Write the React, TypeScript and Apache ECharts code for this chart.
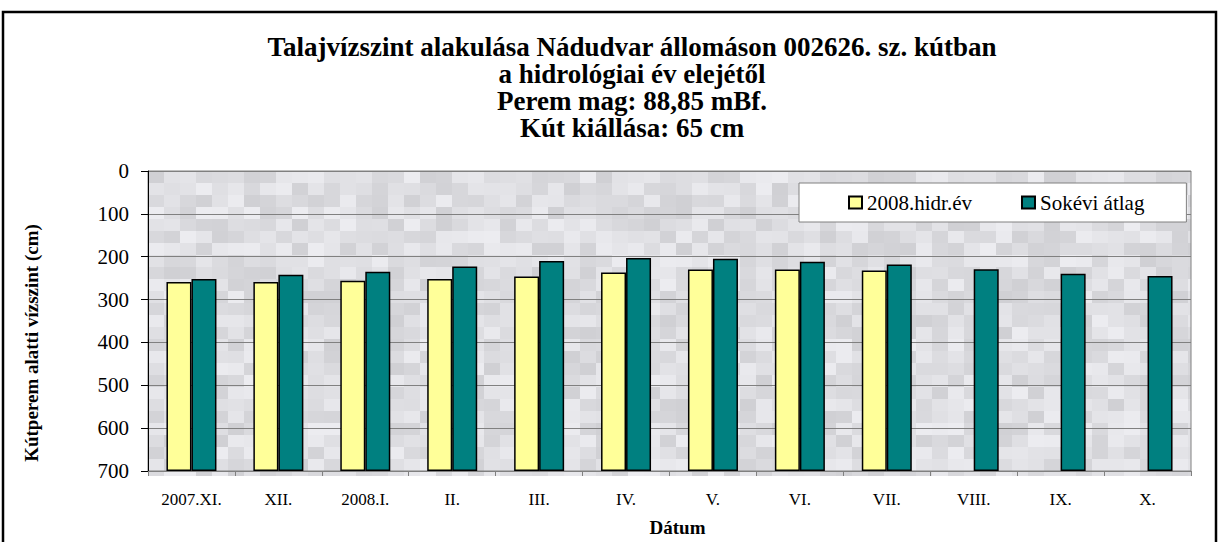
import { useEffect, useRef } from "react";
import * as echarts from "echarts";

const categories = ["2007.XI.", "XII.", "2008.I.", "II.", "III.", "IV.", "V.", "VI.", "VII.", "VIII.", "IX.", "X."];
const hydroYear2008: (number | null)[] = [259, 259, 256, 252, 246, 237, 230, 230, 232, null, null, null];
const longTermAvg: (number | null)[] = [252, 242, 235, 223, 210, 203, 205, 212, 218, 229, 240, 245];
const AXIS_MIN = 0;
const AXIS_MAX = 700;
const AXIS_STEP = 100;
const seriesNames = ["2008.hidr.év", "Sokévi átlag"];
const yAxisTitle = "Kútperem alatti vízszint (cm)";
const xAxisTitle = "Dátum";
const titleLines = [
  "Talajvízszint alakulása Nádudvar állomáson 002626. sz. kútban",
  "a hidrológiai év elejétől",
  "Perem mag: 88,85 mBf.",
  "Kút kiállása: 65 cm",
];

// decorative mottled grey background of the plot area (not data)
function makeTexture(w: number, h: number): string {
  const c = document.createElement("canvas");
  c.width = w;
  c.height = h;
  const ctx = c.getContext("2d")!;
  const cw = 16;
  const ch = 12;
  for (let j = 0; j * ch < h; j++) {
    for (let i = 0; i * cw < w; i++) {
      const hsh = ((i * 2654435761) ^ (j * 40503) ^ (i * j * 97)) >>> 0;
      const g = 208 + (hsh % 29);
      ctx.fillStyle = `rgb(${g},${g},${g + 4})`;
      ctx.fillRect(i * cw, j * ch, cw, ch);
    }
  }
  return c.toDataURL("image/png");
}

export default function App() {
  const ref = useRef<HTMLDivElement>(null);
  useEffect(() => {
    const chart = echarts.init(ref.current!, null, { renderer: "svg" });
    const serif = "Liberation Serif";
    const baseOf = (arr: (number | null)[]) => arr.map((v) => (v == null ? null : v));
    const fillOf = (arr: (number | null)[]) => arr.map((v) => (v == null ? null : AXIS_MAX - v));
    const barBorder = { borderColor: "#000", borderWidth: 1.5 };
    const gl = 148, gt = 171, gw = 1219 - 148 - 28, gh = 542 - 171 - 66;
    const tex = makeTexture(gw, gh);
    chart.setOption({
      animation: false,
      textStyle: { fontFamily: serif, color: "#000" },
      title: {
        text: titleLines.join("\n"),
        left: 627,
        textAlign: "center",
        top: 28,
        textStyle: { fontFamily: serif, fontSize: 27, fontWeight: "bold", lineHeight: 27, color: "#000" },
      },
      legend: {
        data: seriesNames,
        left: 799,
        top: 183,
        orient: "horizontal",
        backgroundColor: "#fff",
        borderColor: "#808080",
        borderWidth: 1,
        borderRadius: 0,
        padding: [9, 42, 9, 49],
        itemGap: 49,
        itemWidth: 13,
        itemHeight: 12,
        icon: "rect",
        textStyle: { fontFamily: serif, fontSize: 21, color: "#000" },
      },
      grid: {
        left: gl,
        right: 28,
        top: gt,
        bottom: 66,
        show: true,
        backgroundColor: "transparent",
        borderColor: "#808080",
        borderWidth: 1,
      },
      xAxis: {
        type: "category",
        data: categories,
        name: xAxisTitle,
        nameLocation: "middle",
        nameGap: 47,
        nameTextStyle: { fontFamily: serif, fontSize: 19, fontWeight: "bold", color: "#000", padding: [0, 0, 0, 16] },
        axisLine: { onZero: false, lineStyle: { color: "#808080", width: 1 } },
        axisTick: { show: true, length: 5, lineStyle: { color: "#808080" } },
        axisLabel: { fontFamily: serif, fontSize: 17, color: "#000", margin: 20, interval: 0 },
      },
      yAxis: {
        type: "value",
        inverse: true,
        min: AXIS_MIN,
        max: AXIS_MAX,
        interval: AXIS_STEP,
        axisLine: { show: true, lineStyle: { color: "#000", width: 1 } },
        axisTick: { show: true, length: 7, lineStyle: { color: "#000" } },
        axisLabel: { fontFamily: serif, fontSize: 21, color: "#000", margin: 19 },
        splitLine: { show: true, lineStyle: { color: "#808080", width: 1 } },
      },
      graphic: [
        {
          type: "image",
          x: gl,
          y: gt,
          z: -10,
          silent: true,
          style: { image: tex, width: gw, height: gh },
        },
        {
          type: "text",
          x: 31,
          y: 343,
          rotation: Math.PI / 2,
          silent: true,
          style: {
            text: yAxisTitle,
            font: "bold 19px Liberation Serif",
            fill: "#000",
            align: "center",
            verticalAlign: "middle",
          },
        },
        {
          type: "rect",
          shape: { x: 3, y: 12, width: 1213, height: 545 },
          style: { fill: "none", stroke: "#000", lineWidth: 2.5 },
          silent: true,
          z: 100,
        },
      ],
      series: [
        {
          name: "base2008",
          type: "bar",
          stack: "h2008",
          barWidth: 25,
          barGap: "0%",
          itemStyle: { color: "transparent", borderWidth: 0 },
          data: baseOf(hydroYear2008),
          silent: true,
        },
        {
          name: seriesNames[0],
          type: "bar",
          stack: "h2008",
          barWidth: 25,
          barGap: "0%",
          itemStyle: { color: "#FFFF99", ...barBorder },
          data: fillOf(hydroYear2008),
        },
        {
          name: "baseAvg",
          type: "bar",
          stack: "avg",
          barWidth: 25,
          barGap: "0%",
          itemStyle: { color: "transparent", borderWidth: 0 },
          data: baseOf(longTermAvg),
          silent: true,
        },
        {
          name: seriesNames[1],
          type: "bar",
          stack: "avg",
          barWidth: 25,
          barGap: "0%",
          itemStyle: { color: "#008080", ...barBorder },
          data: fillOf(longTermAvg),
        },
      ],
    });
    return () => chart.dispose();
  }, []);
  return <div ref={ref} style={{ position: "absolute", left: 0, top: 0, width: 1219, height: 542, background: "#fff" }} />;
}
